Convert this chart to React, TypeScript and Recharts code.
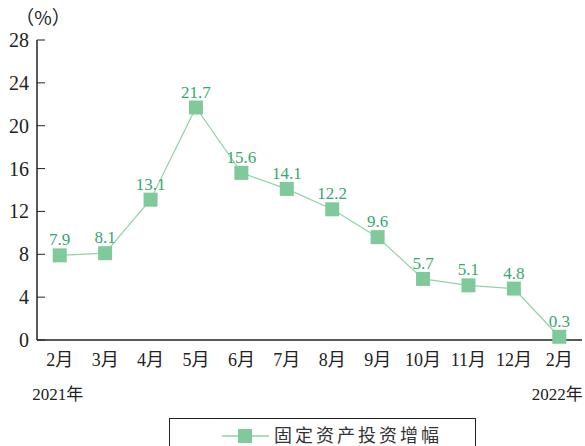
import { LineChart, Line, XAxis, YAxis, LabelList, Legend } from "recharts"

const months = ["2月", "3月", "4月", "5月", "6月", "7月", "8月", "9月", "10月", "11月", "12月", "2月"]
const growth = [7.9, 8.1, 13.1, 21.7, 15.6, 14.1, 12.2, 9.6, 5.7, 5.1, 4.8, 0.3]
const yearNotes: Record<number, string> = { 0: "2021年", 11: "2022年" }
const yTicks = [0, 4, 8, 12, 16, 20, 24, 28]
const seriesName = "固定资产投资增幅"

const LINE = "#8fd3a8"
const MARK = "#80c99a"
const LABEL = "#35a86c"
const INK = "#222"
const FONT = "'Liberation Serif', 'Noto Sans CJK SC', serif"

const data = months.map((m, i) => ({ pos: i + 0.5, month: m, value: growth[i] }))
const labelTicks = data.map((d) => d.pos)
const boundaryTicks = months.slice(1).map((_, i) => i + 1)

const XTick = ({ x, y, payload }: any) => {
  const i = Math.floor(payload.value)
  const note = yearNotes[i]
  return (
    <g>
      <text x={x} y={y} dy={26} textAnchor="middle" fontSize={18} fill={INK} fontFamily={FONT}>
        {months[i]}
      </text>
      {note && (
        <text x={x - 2} y={y} dy={60} textAnchor="middle" fontSize={17} fill={INK} fontFamily={FONT}>
          {note}
        </text>
      )}
    </g>
  )
}

const YTick = ({ x, y, payload }: any) => (
  <text x={x} y={y} dy={7} textAnchor="end" fontSize={20} fill={INK} fontFamily={FONT}>
    {payload.value}
  </text>
)

const SquareDot = ({ cx, cy, index }: any) => (
  <rect key={`dot-${index}`} x={cx - 7} y={cy - 7} width={14} height={14} fill={MARK} />
)

const LegendBox = () => (
  <div
    style={{
      boxSizing: "border-box",
      width: "100%",
      height: "100%",
      border: `1px solid ${INK}`,
      display: "flex",
      alignItems: "flex-start",
      paddingLeft: 52,
      paddingTop: 6,
    }}
  >
    <svg width={48} height={22}>
      <line x1={0} y1={11} x2={47} y2={11} stroke={LINE} strokeWidth={1.5} />
      <rect x={16} y={4} width={14} height={14} fill={MARK} />
    </svg>
    <span style={{ fontFamily: FONT, fontSize: 18, color: "#333", letterSpacing: 3, marginLeft: 4, lineHeight: "22px" }}>
      {seriesName}
    </span>
  </div>
)

export default function App() {
  return (
    <div style={{ position: "absolute", left: 0, top: 0, width: 585, height: 446, overflow: "hidden", background: "#fff" }}>
      <LineChart width={585} height={446} data={data} margin={{ top: 40, right: 3, left: 0, bottom: 46 }}>
        <XAxis
          xAxisId="bounds"
          type="number"
          dataKey="pos"
          domain={[0, 12]}
          ticks={boundaryTicks}
          interval={0}
          tick={false}
          tickSize={-8}
          height={0}
          axisLine={false}
          stroke={INK}
        />
        <XAxis
          type="number"
          dataKey="pos"
          domain={[0, 12]}
          ticks={labelTicks}
          interval={0}
          tick={<XTick />}
          tickLine={false}
          tickSize={0}
          tickMargin={0}
          height={60}
          axisLine={{ stroke: INK, strokeWidth: 1.5 }}
        />
        <YAxis
          domain={[0, 28]}
          ticks={yTicks}
          interval={0}
          width={37}
          tick={<YTick />}
          tickSize={-8}
          tickMargin={16}
          axisLine={{ stroke: INK, strokeWidth: 1.5 }}
          tickLine={{ stroke: INK }}
          label={({ viewBox }: any) => (
            <text
              x={viewBox.x + viewBox.width + 6}
              y={viewBox.y - 15}
              textAnchor="middle"
              fontSize={19}
              fill={INK}
              fontFamily="'Noto Sans CJK SC', 'Liberation Serif', serif"
            >
              （%）
            </text>
          )}
        />
        <Legend
          layout="horizontal"
          verticalAlign="middle"
          align="center"
          content={<LegendBox />}
          wrapperStyle={{ left: 169, top: 418, width: 307, height: 40 }}
        />
        <Line
          type="linear"
          dataKey="value"
          name={seriesName}
          stroke={LINE}
          strokeWidth={1.2}
          dot={<SquareDot />}
          activeDot={false}
          isAnimationActive={false}
        >
          <LabelList dataKey="value" position="top" offset={10} fill={LABEL} fontSize={17} fontFamily={FONT} />
        </Line>
      </LineChart>
    </div>
  )
}
